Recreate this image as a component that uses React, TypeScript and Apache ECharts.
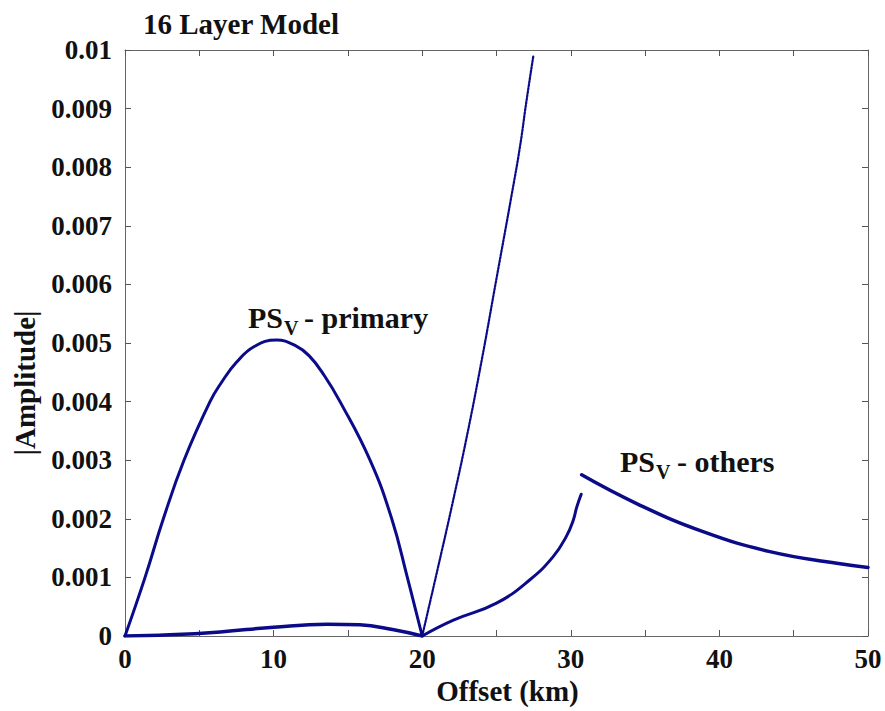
import React, { useEffect, useRef } from "react";
import * as echarts from "echarts";

// Offset (km) / |Amplitude|
const archX = [0, 1.35, 2.58, 3.97, 5.72, 6.5, 7.5, 8.7, 10.2, 11.5, 12.4, 13.4, 14.47, 16.49, 17.95, 19.0, 20];
const archY = [0, 0.001, 0.002, 0.003, 0.004, 0.00433, 0.00467, 0.00494, 0.00505, 0.00495, 0.00478, 0.00445, 0.004, 0.003, 0.002, 0.001, 0];

const humpX = [0, 3, 6.4, 10, 13.6, 15.8, 18, 20];
const humpY = [0, 0.00002, 0.00007, 0.00015, 0.0002, 0.00019, 0.00011, 0];

const riseX = [20, 22.1, 25, 27.25, 28.8, 29.7, 30.17, 30.4, 30.7];
const riseY = [0, 0.00027, 0.00056, 0.00096, 0.00135, 0.0017, 0.00198, 0.0022, 0.00242];

const steepX = [20, 21, 22, 23, 24, 25, 26, 26.58, 27, 27.48];
const steepY = [0, 0.0011, 0.00222, 0.0034, 0.0047, 0.0061, 0.0075, 0.00835, 0.0091, 0.0099];

const othersX = [30.73, 34.43, 38.9, 43.4, 47.9, 50];
const othersY = [0.00275, 0.00226, 0.00178, 0.00144, 0.00124, 0.00117];

const xTickLabels = ["0", "10", "20", "30", "40", "50"];

const FONT = "'Liberation Serif', 'Times New Roman', serif";
const NAVY = "#0b0b8a";

function zip(xs: number[], ys: number[]) {
  return xs.map((x, i) => [x, ys[i]]);
}

export default function App() {
  const ref = useRef<HTMLDivElement>(null);
  useEffect(() => {
    if (!ref.current) return;
    const chart = echarts.init(ref.current, null, { renderer: "svg" });
    const axisLine = { show: true, onZero: false, lineStyle: { color: "#666", width: 1 } };
    const axisTick = { show: true, inside: true, length: 6, lineStyle: { color: "#555" } };
    const lineSeries = (name: string, xs: number[], ys: number[], width: number, dotted = false) => ({
      type: "line",
      name,
      data: zip(xs, ys),
      showSymbol: false,
      smooth: 0.45,
      lineStyle: { color: NAVY, width, type: dotted ? [2, 1.5] : "solid", cap: "round", join: "round" },
      itemStyle: { color: NAVY },
      silent: true,
    });
    chart.setOption({
      animation: false,
      backgroundColor: "#fff",
      title: {
        text: "16 Layer Model",
        left: 138,
        top: 4,
        textStyle: { fontFamily: FONT, fontWeight: "bold", fontSize: 29, color: "#111" },
      },
      grid: { left: 125, right: 17, top: 50, bottom: 75, containLabel: false },
      xAxis: [
        {
          type: "value",
          min: 0,
          max: 50,
          interval: 5,
          position: "bottom",
          name: "Offset (km)",
          nameLocation: "middle",
          nameGap: 38,
          nameTextStyle: { fontFamily: FONT, fontWeight: "bold", fontSize: 29, color: "#111", padding: [0, 0, 0, 22] },
          axisLine,
          axisTick,
          splitLine: { show: false },
          axisLabel: {
            margin: 9,
            fontFamily: FONT,
            fontWeight: "bold",
            fontSize: 27,
            color: "#111",
            formatter: (v: number) => {
              const s = String(Math.round(v));
              return xTickLabels.includes(s) ? s : "";
            },
          },
        },
        {
          type: "value",
          min: 0,
          max: 50,
          interval: 5,
          position: "top",
          axisLine,
          axisTick,
          splitLine: { show: false },
          axisLabel: { show: false },
        },
      ],
      yAxis: [
        {
          type: "value",
          min: 0,
          max: 0.01,
          interval: 0.001,
          position: "left",
          name: "|Amplitude|",
          nameLocation: "middle",
          nameRotate: 90,
          nameGap: 86,
          nameTextStyle: { fontFamily: FONT, fontWeight: "bold", fontSize: 29, color: "#111", padding: [0, 80, 0, 0] },
          axisLine,
          axisTick,
          splitLine: { show: false },
          axisLabel: {
            margin: 13,
            fontFamily: FONT,
            fontWeight: "bold",
            fontSize: 27,
            color: "#111",
            formatter: (v: number) => String(parseFloat(v.toFixed(4))),
          },
        },
        {
          type: "value",
          min: 0,
          max: 0.01,
          interval: 0.001,
          position: "right",
          axisLine,
          axisTick,
          splitLine: { show: false },
          axisLabel: { show: false },
        },
      ],
      graphic: [
        { type: "text", x: 248, y: 317, style: { text: "PS", fontFamily: FONT, fontWeight: "bold", fontSize: 30, fill: "#111", verticalAlign: "middle" } },
        { type: "text", x: 284, y: 328, style: { text: "V", fontFamily: FONT, fontWeight: "bold", fontSize: 20, fill: "#111", verticalAlign: "middle" } },
        { type: "text", x: 304, y: 317, style: { text: "- primary", fontFamily: FONT, fontWeight: "bold", fontSize: 30, fill: "#111", verticalAlign: "middle" } },
        { type: "text", x: 620, y: 461, style: { text: "PS", fontFamily: FONT, fontWeight: "bold", fontSize: 30, fill: "#111", verticalAlign: "middle" } },
        { type: "text", x: 656, y: 472, style: { text: "V", fontFamily: FONT, fontWeight: "bold", fontSize: 20, fill: "#111", verticalAlign: "middle" } },
        { type: "text", x: 677, y: 461, style: { text: "- others", fontFamily: FONT, fontWeight: "bold", fontSize: 30, fill: "#111", verticalAlign: "middle" } },
      ],
      series: [
        lineSeries("PSv primary", archX, archY, 3),
        lineSeries("lower", humpX, humpY, 3.5),
        lineSeries("rise", riseX, riseY, 3),
        lineSeries("steep", steepX, steepY, 2.2, true),
        lineSeries("PSv others", othersX, othersY, 3.5),
      ],
    });
    return () => chart.dispose();
  }, []);
  return <div ref={ref} style={{ position: "absolute", left: 0, top: 0, width: 885, height: 711 }} />;
}
